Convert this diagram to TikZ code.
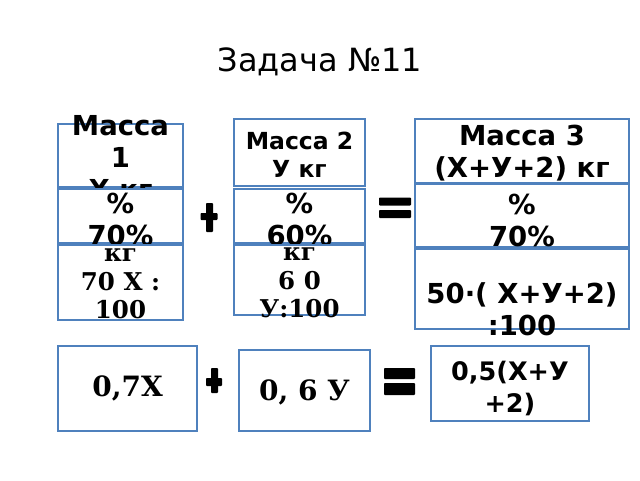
\documentclass[tikz,border=0pt]{standalone}
\usepackage{fontspec}
\setmainfont{DejaVu Sans}
\newfontfamily\serifb{DejaVu Serif}
\begin{document}
\begin{tikzpicture}[x=1pt,y=-1pt,
  cell/.style={draw=boxblue,line width=1.5pt,fill=white},
  sanst/.style={font=\fontsize{27.5}{32}\selectfont\bfseries,align=center,inner sep=0pt},
  sansm/.style={font=\fontsize{23.5}{28.5}\selectfont\bfseries,align=center,inner sep=0pt},
  seriftxt/.style={font=\serifb\fontsize{24.5}{28.5}\selectfont\bfseries,align=center,inner sep=0pt},
  serifbig/.style={font=\serifb\fontsize{28}{32}\selectfont\bfseries,align=center,inner sep=0pt},
  sign/.style={fill=black,rounded corners=0.8pt}]
\definecolor{boxblue}{RGB}{79,129,189}
\useasboundingbox (0,0) rectangle (640,480);
\node[font=\fontsize{32}{38}\selectfont] (title) at (320,62) {Задача №11};
% column 1
\draw[cell] (58,124) rectangle (183,187);
\node[sanst] (t1a) at (120.5,157) {Масса\\1\\Х кг};
\draw[cell] (58,189) rectangle (183,243);
\node[sanst] (t1b) at (120.5,219) {\%\\70\%};
\draw[cell] (58,245) rectangle (183,320);
\node[seriftxt] (t1c) at (120.5,284) {кг\\70 Х :\\100};
% column 2
\draw[cell] (234,119) rectangle (365,186);
\node[sansm] (t2a) at (299.5,155) {Масса 2\\У кг};
\draw[cell] (234,189) rectangle (365,243);
\node[sanst] (t2b) at (299.5,219) {\%\\60\%};
\draw[cell] (234,245) rectangle (365,315);
\node[seriftxt] (t2c) at (299.5,283) {кг\\6 0\\У:100};
% column 3
\draw[cell] (415,119) rectangle (629,183);
\node[sanst] (t3a) at (522,153) {Масса 3\\(Х+У+2) кг};
\draw[cell] (415,184) rectangle (629,247);
\node[sanst] (t3b) at (522,220) {\%\\70\%};
\draw[cell] (415,249) rectangle (629,329);
\node[sanst] (t3c) at (522,309) {50·( Х+У+2)\\:100};
% signs row 1
\fill[sign] (206,203) rectangle (213,232);
\fill[sign] (200.5,213) rectangle (217.5,220);
\fill[sign] (379,197.5) rectangle (411,205.5);
\fill[sign] (379,210) rectangle (411,218);
% bottom row
\draw[cell] (58,346) rectangle (197,431);
\node[serifbig] (c1) at (127.5,388) {0,7Х};
\draw[cell] (239,350) rectangle (370,431);
\node[serifbig] (c2) at (304.5,392) {0, 6 У};
\draw[cell] (431,346) rectangle (589,421);
\node[font=\fontsize{25.5}{32}\selectfont\bfseries,align=center,inner sep=0pt] (c3) at (510,388) {0,5(Х+У\\+2)};
\fill[sign] (211,368) rectangle (218,393);
\fill[sign] (206,378) rectangle (222,386);
\fill[sign] (384,368) rectangle (415,379);
\fill[sign] (384,383) rectangle (415,395);
\end{tikzpicture}
\end{document}
